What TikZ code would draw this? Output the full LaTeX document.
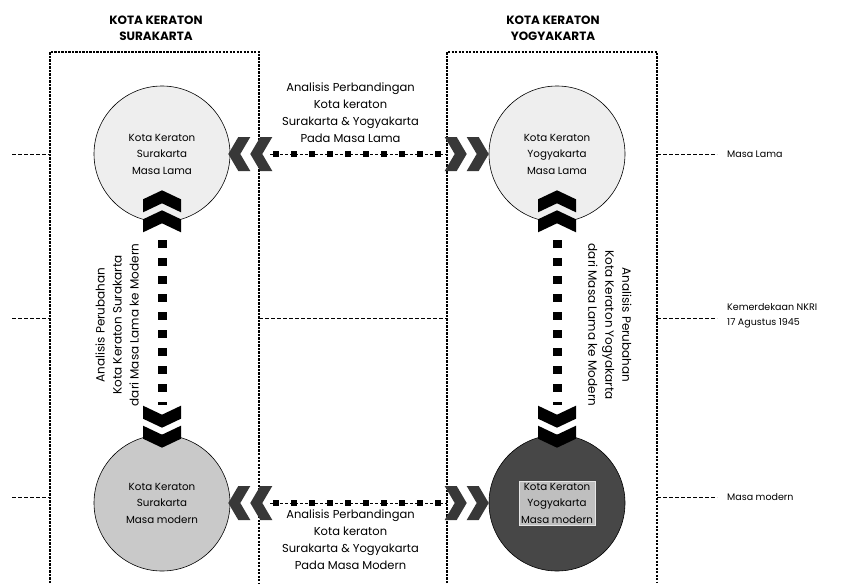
\documentclass[tikz,border=0pt]{standalone}
\usepackage{fontspec}
\setmainfont{Poppins}
\usetikzlibrary{calc}
\tikzset{
  every node/.style={inner sep=0pt},
  txt/.style={font=\fontsize{11.5}{17}\selectfont, align=center},
  side/.style={font=\fontsize{9.5}{15.5}\selectfont, align=left, anchor=west},
  title/.style={font=\bfseries\fontsize{12}{16}\selectfont, align=center},
  city/.style={circle, draw=black, line width=0.6pt, minimum size=136pt,
               align=center, font=\fontsize{10.3}{16.5}\selectfont},
  citytext/.style={rectangle, align=center, font=\fontsize{10.3}{16.5}\selectfont},
  frame/.style={line width=2.4pt, dash pattern=on 2.2pt off 1.3pt},
  tick/.style={line width=0.6pt, dash pattern=on 4pt off 2pt},
  hline/.style={line width=0.5pt, dash pattern=on 3pt off 2pt},
  hdots/.style={line width=5.5pt, dash pattern=on 5.5pt off 12.5pt},
  vdots/.style={line width=9pt, dash pattern=on 7.5pt off 10.5pt},
  pics/chevup/.style={code={\fill[#1] (0,0) -- (19,9) -- (19,22) -- (0,13) -- (-19,22) -- (-19,9) -- cycle;}},
  pics/chevdown/.style={code={\fill[#1] (0,0) -- (19,-9) -- (19,-22) -- (0,-13) -- (-19,-22) -- (-19,-9) -- cycle;}},
  pics/chevleft/.style={code={\fill[#1] (0,0) -- (10,-17) -- (22,-17) -- (12,0) -- (22,17) -- (10,17) -- cycle;}},
  pics/chevright/.style={code={\fill[#1] (0,0) -- (-10,-17) -- (-22,-17) -- (-12,0) -- (-22,17) -- (-10,17) -- cycle;}},
}
\begin{document}
\begin{tikzpicture}[x=1pt,y=-1pt]
\useasboundingbox[fill=white] (0,0) rectangle (850,583);

% the two city frames, open at the bottom
\draw[frame] (50,583) -- (50,52) -- (259,52) -- (259,583);
\draw[frame] (447,583) -- (447,52) -- (657,52) -- (657,583);
\node[title] (tsol) at (156,28) {KOTA KERATON\\SURAKARTA};
\node[title] (tyog) at (553,28) {KOTA KERATON\\YOGYAKARTA};

% time markers
\coordinate (l1) at (12,154);  \coordinate (f1) at (50,154);
\coordinate (l2) at (12,318);  \coordinate (f2) at (50,318);
\coordinate (l3) at (12,497);  \coordinate (f3) at (50,497);
\coordinate (m1) at (259,318); \coordinate (m2) at (447,318);
\coordinate (r1) at (657,154); \coordinate (r2) at (657,318); \coordinate (r3) at (657,497);
\node[side] (lama) at (727,154) {Masa Lama};
\node[side] (nkri) at (727,316) {Kemerdekaan NKRI\\17 Agustus 1945};
\node[side] (modern) at (727,497) {Masa modern};
\draw[tick] (l1) -- (f1);
\draw[tick] (l2) -- (f2);
\draw[tick] (l3) -- (f3);
\draw[tick] (m1) -- (m2);
\draw[tick] (r1) -- ([xshift=-10pt]lama.west);
\draw[tick] (r2) -- ([xshift=-10pt]r2 -| nkri.west);
\draw[tick] (r3) -- ([xshift=-10pt]modern.west);

% the four cities
\node[city, fill=gray!13] (tl) at (162,154) {Kota Keraton\\Surakarta\\Masa Lama};
\node[city, fill=gray!13] (tr) at (557,154) {Kota Keraton\\Yogyakarta\\Masa Lama};
\node[city, fill=gray!42] (bl) at (162,503) {Kota Keraton\\Surakarta\\Masa modern};
\node[city, fill=black!72] (br) at (557,503) {};
\node[citytext, fill=gray!50, draw=gray!20, line width=0.5pt, inner sep=2pt] (brt) at (br) {Kota Keraton\\Yogyakarta\\Masa modern};

% comparison arrows (horizontal)
\draw[hline] ([xshift=40pt]tl.east) -- ([xshift=-42pt]tr.west);
\draw[hdots] ([xshift=43pt]tl.east) -- ([xshift=-44pt]tr.west);
\pic at ([xshift=-2pt]tl.east) {chevleft=black!78};
\pic at ([xshift=20pt]tl.east) {chevleft=black!78};
\pic at (tr.west) {chevright=black!78};
\pic at ([xshift=-22pt]tr.west) {chevright=black!78};

\draw[hline] ([xshift=40pt]bl.east) -- ([xshift=-42pt]br.west);
\draw[hdots] ([xshift=43pt]bl.east) -- ([xshift=-44pt]br.west);
\pic at ([xshift=-2pt]bl.east) {chevleft=black!78};
\pic at ([xshift=20pt]bl.east) {chevleft=black!78};
\pic at (br.west) {chevright=black!78};
\pic at ([xshift=-22pt]br.west) {chevright=black!78};

\node[txt] (cmp1) at ($(tl)!0.5!(tr)+(-9,-41)$) {Analisis Perbandingan\\Kota keraton\\Surakarta \& Yogyakarta\\Pada Masa Lama};
\node[txt] (cmp2) at ($(bl)!0.5!(br)+(-9,37)$) {Analisis Perbandingan\\Kota keraton\\Surakarta \& Yogyakarta\\Pada Masa Modern};

% change arrows (vertical)
\draw[vdots] ([yshift=-18pt]tl.south) -- ([yshift=30pt]bl.north);
\pic at ([yshift=32pt]tl.south) {chevup=black};
\pic at ([yshift=12pt]tl.south) {chevup=black};
\pic at ([yshift=7pt]bl.north) {chevdown=black};
\pic at ([yshift=-13pt]bl.north) {chevdown=black};

\draw[vdots] ([yshift=-18pt]tr.south) -- ([yshift=30pt]br.north);
\pic at ([yshift=32pt]tr.south) {chevup=black};
\pic at ([yshift=12pt]tr.south) {chevup=black};
\pic at ([yshift=7pt]br.north) {chevdown=black};
\pic at ([yshift=-13pt]br.north) {chevdown=black};

\node[txt, rotate=90, font=\fontsize{12}{17}\selectfont] (chg1) at (117,325) {Analisis Perubahan\\Kota Keraton Surakarta\\dari Masa Lama ke Modern};
\node[txt, rotate=-90, font=\fontsize{12}{17}\selectfont] (chg2) at (610,325) {Analisis Perubahan\\Kota Keraton Yogyakarta\\dari Masa Lama ke Modern};
\end{tikzpicture}
\end{document}
